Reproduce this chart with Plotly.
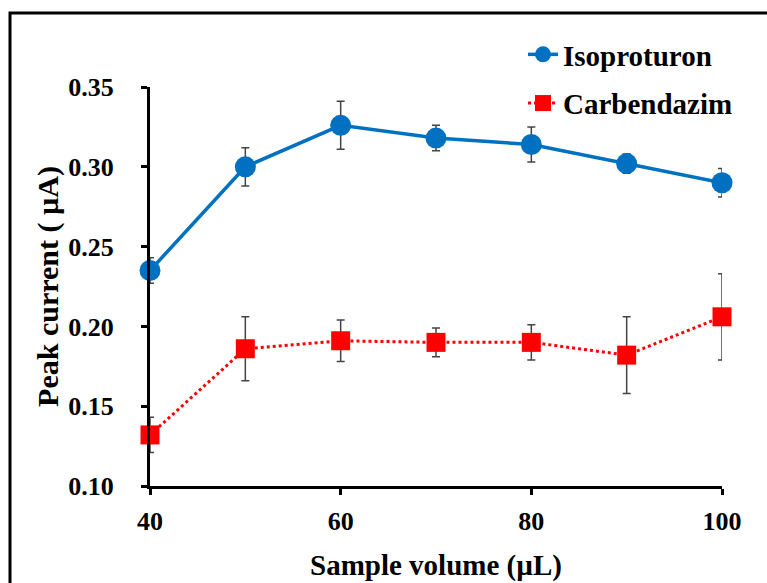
import plotly.graph_objects as go

volumes = [40, 50, 60, 70, 80, 90, 100]
isoproturon = [0.235, 0.300, 0.326, 0.318, 0.314, 0.302, 0.290]
isoproturon_err = [0.008, 0.012, 0.015, 0.008, 0.011, 0.006, 0.009]
carbendazim = [0.132, 0.186, 0.191, 0.190, 0.190, 0.182, 0.206]
carbendazim_err = [0.011, 0.020, 0.013, 0.009, 0.011, 0.024, 0.027]
x_ticks = [40, 60, 80, 100]
y_ticks = [0.10, 0.15, 0.20, 0.25, 0.30, 0.35]

FONT = "'Times New Roman', 'Liberation Serif', 'DejaVu Serif', serif"
W, H = 767, 583
L, R, T, B = 150, 45, 87, 97
pw, ph = W - L - R, H - T - B

def px_x(p):
    return (p - L) / pw

def px_y(p):
    return (H - B - p) / ph

fig = go.Figure()
fig.add_trace(go.Scatter(
    x=volumes, y=isoproturon, name="Isoproturon", legendgroup="a",
    mode="lines+markers",
    line=dict(color="#0070C0", width=3.5),
    marker=dict(symbol="circle", size=21, color="#0070C0"),
    error_y=dict(type="data", array=isoproturon_err, color="#444444", thickness=1.5, width=4),
    cliponaxis=False,
))
fig.add_trace(go.Scatter(
    x=volumes, y=carbendazim, name="Carbendazim", legendgroup="b",
    mode="lines+markers",
    line=dict(color="#FF0000", width=3, dash="dot"),
    marker=dict(symbol="square", size=19, color="#FF0000"),
    error_y=dict(type="data", array=carbendazim_err, color="#444444", thickness=1.5, width=4),
    cliponaxis=False,
))

axis_common = dict(
    showline=True, linecolor="black", linewidth=3, mirror=False,
    ticks="outside", ticklen=6, tickwidth=3, tickcolor="black",
    showgrid=False, zeroline=False, automargin=False,
    tickfont=dict(family=FONT, size=26, color="black", weight="bold"),
)

fig.update_xaxes(
    range=[40, 100], tickvals=x_ticks, ticktext=[str(v) for v in x_ticks],
    ticklabelstandoff=4,
    title=dict(text="<b>Sample volume (µL)</b>", font=dict(family=FONT, size=29, color="black"), standoff=20),
    **axis_common,
)
fig.update_yaxes(
    range=[0.10, 0.35], tickvals=y_ticks, ticktext=[f"{v:.2f}" for v in y_ticks],
    ticklabelstandoff=22,
    title=dict(text="<b>Peak current ( µA)</b>", font=dict(family=FONT, size=30, color="black"), standoff=1),
    **axis_common,
)

fig.update_layout(
    width=W, height=H,
    margin=dict(l=L, r=R, t=T, b=B),
    paper_bgcolor="white", plot_bgcolor="white",
    showlegend=True,
    legend=dict(
        x=px_x(523), y=px_y(29), xanchor="left", yanchor="top",
        font=dict(family=FONT, size=29, color="black", weight="bold"),
        bgcolor="rgba(0,0,0,0)", traceorder="grouped", tracegroupgap=8,
    ),
    shapes=[dict(
        type="rect", xref="paper", yref="paper",
        x0=px_x(10), x1=px_x(900), y0=px_y(700), y1=px_y(13),
        line=dict(color="black", width=3), fillcolor="rgba(0,0,0,0)", layer="above",
    )],
)

fig.write_html("out.html")
